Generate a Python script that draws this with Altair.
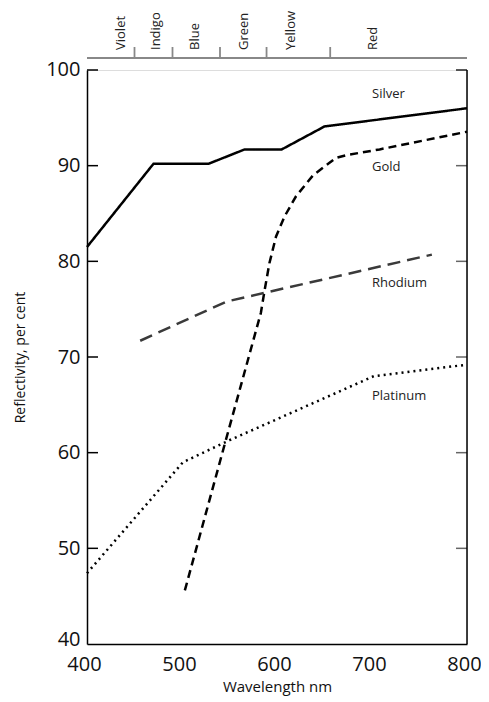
import altair as alt
import pandas as pd

FONT = "Open Sans"
W, H = 380, 574

silver_x = [400, 470, 528, 566, 605, 650, 800]
silver_y = [81.5, 90.2, 90.2, 91.7, 91.7, 94.1, 96.0]

gold_x = [503, 545, 583, 587, 592, 599, 608, 620, 638, 662, 673, 708, 800]
gold_y = [45.6, 60.9, 74.6, 77.0, 79.8, 82.6, 84.7, 86.8, 89.0, 90.8, 91.1, 91.7, 93.55]

rhodium_x = [456, 547, 763]
rhodium_y = [71.7, 75.8, 80.7]

platinum_x = [400, 501, 550, 702, 800]
platinum_y = [47.4, 59.0, 61.3, 68.0, 69.2]

metal_names = ["Silver", "Gold", "Rhodium", "Platinum"]
label_x = [700, 700, 700, 700]
label_y = [97.5, 89.9, 77.7, 65.9]

band_edges = [450, 490, 540, 589, 656]
band_names = ["Violet", "Indigo", "Blue", "Green", "Yellow", "Red"]
band_label_x = [436, 473, 514, 565, 615, 701]

y_ticks = [50, 60, 70, 80, 90, 100]
right_tick_colors = ["#666", "#666", "#666", "#666", "#666", "#222"]
x_ticks = [400, 500, 600, 700, 800]

rows = []
for name, xs, ys in [("Silver", silver_x, silver_y), ("Gold", gold_x, gold_y),
                     ("Rhodium", rhodium_x, rhodium_y), ("Platinum", platinum_x, platinum_y)]:
    for i, (a, b) in enumerate(zip(xs, ys)):
        rows.append({"metal": name, "wl": a, "r": b, "order": i})
df = pd.DataFrame(rows)

xscale = alt.Scale(domain=[400, 800], nice=False, zero=False)
yscale = alt.Scale(domain=[40, 100], nice=False, zero=False)

xenc = alt.X("wl:Q", scale=xscale,
             axis=alt.Axis(values=x_ticks, ticks=False, grid=False, domainColor="#000",
                           domainWidth=1.5, labelFontSize=20, labelColor="#111",
                           labelFont=FONT, labelPadding=10, labelOffset=-3,
                           title="Wavelength nm",
                           titleFont=FONT, titleFontSize=15, titleFontWeight="normal",
                           titleColor="#111", titlePadding=5, labelFlush=False))
yenc = alt.Y("r:Q", scale=yscale,
             axis=alt.Axis(values=[40] + y_ticks, ticks=False, grid=False, domainColor="#000",
                           domainWidth=1.5, labelFontSize=20, labelColor="#111",
                           labelFont=FONT, labelPadding=7,
                           labelOffset=alt.ExprRef(expr="datum.value == 40 ? -5 : (datum.value == 100 ? -1 : 0)"),
                           title="Reflectivity, per cent",
                           titleFont=FONT, titleFontSize=14, titleFontWeight="normal",
                           titleColor="#111", titlePadding=18, labelFlush=False))

lines = alt.Chart(df).mark_line(strokeCap="butt", strokeJoin="miter").encode(
    x=xenc, y=yenc, order="order:Q",
    detail="metal:N",
    color=alt.Color("metal:N", scale=alt.Scale(domain=metal_names,
                    range=["#000", "#000", "#3a3a3a", "#000"]), legend=None),
    strokeDash=alt.StrokeDash("metal:N", scale=alt.Scale(domain=metal_names,
                    range=[[1, 0], [8, 5], [13, 7], [2, 4]]), legend=None),
    strokeWidth=alt.StrokeWidth("metal:N", scale=alt.Scale(domain=metal_names,
                    range=[2.5, 2.5, 2.5, 2.2]), legend=None),
)

labels_df = pd.DataFrame({"name": metal_names, "wl": label_x, "r": label_y})
labels = alt.Chart(labels_df).mark_text(align="left", baseline="middle", font=FONT,
                                        fontSize=13, color="#222").encode(
    x=alt.X("wl:Q", scale=xscale), y=alt.Y("r:Q", scale=yscale), text="name:N")

ticks_df = pd.DataFrame({"r": y_ticks, "c": right_tick_colors})
left_ticks = alt.Chart(ticks_df).mark_rule(color="#000", strokeWidth=1.5).encode(
    y=alt.Y("r:Q", scale=yscale), x=alt.value(0), x2=alt.value(11))
right_ticks = alt.Chart(ticks_df).mark_rule(strokeWidth=1.5).encode(
    y=alt.Y("r:Q", scale=yscale), x=alt.value(W - 11), x2=alt.value(W),
    color=alt.Color("c:N", scale=None))

right_df = pd.DataFrame({"wl": [800], "r0": [40], "r1": [100]})
right_line = alt.Chart(right_df).mark_rule(color="#000", strokeWidth=1.5).encode(
    x=alt.X("wl:Q", scale=xscale), y=alt.Y("r0:Q", scale=yscale), y2="r1:Q")

band_line_df = pd.DataFrame({"a": [400], "b": [800]})
band_line = alt.Chart(band_line_df).mark_rule(color="#888", strokeWidth=2.2).encode(
    x=alt.X("a:Q", scale=xscale), x2="b:Q", y=alt.value(-12))

edges_df = pd.DataFrame({"wl": band_edges})
band_ticks = alt.Chart(edges_df).mark_rule(color="#888", strokeWidth=1.8).encode(
    x=alt.X("wl:Q", scale=xscale), y=alt.value(-12), y2=alt.value(-23))

band_df = pd.DataFrame({"name": band_names, "wl": band_label_x})
band_labels = alt.Chart(band_df).mark_text(angle=270, align="left", baseline="middle",
                                           font=FONT, fontSize=13, color="#222").encode(
    x=alt.X("wl:Q", scale=xscale), y=alt.value(-20), text="name:N")

chart = alt.layer(lines, labels, left_ticks, right_ticks, right_line,
                  band_line, band_ticks, band_labels).properties(
    width=W, height=H,
    autosize=alt.AutoSizeParams(type="none"),
    padding={"left": 79, "top": 62, "right": 14, "bottom": 54},
).configure_view(stroke=None).configure(background="white")

chart.save("out.html", embed_options={"renderer": "svg", "actions": False})
